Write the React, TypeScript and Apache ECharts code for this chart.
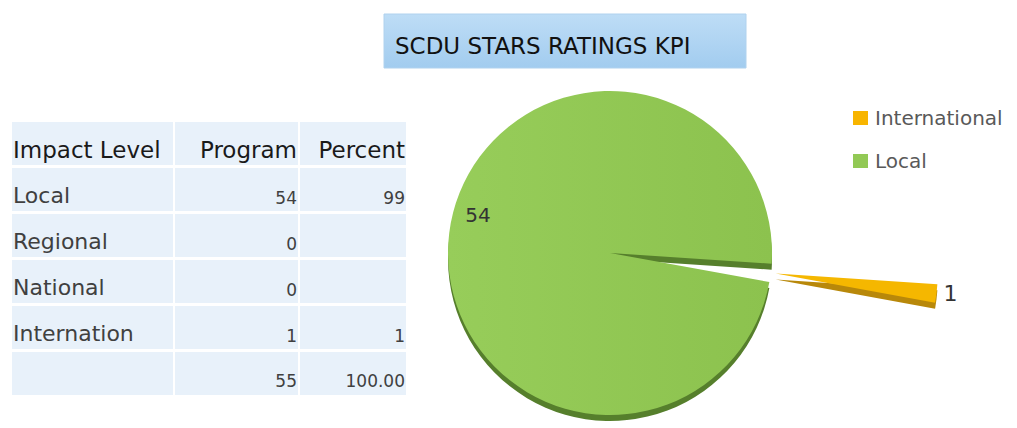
import React, { useEffect, useRef } from "react";
import * as echarts from "echarts";

const titleText = "SCDU STARS RATINGS KPI";
const tableHeaders = ["Impact Level", "Program", "Percent"];
const levels = ["Local", "Regional", "National", "Internation"];
const programs = [54, 0, 0, 1];
const percents: (number | null)[] = [99, null, null, 1];
const totalProgram = "55";
const totalPercent = "100.00";

const pieNames = ["International", "Local"];
const pieValues = [1, 54];

const FONT = "DejaVu Sans";
const faceColors: Record<string, any> = {
  International: "#F5B700",
  Local: new echarts.graphic.LinearGradient(0, 0, 1, 0, [
    { offset: 0, color: "#97CD5A" },
    { offset: 1, color: "#8CC24E" },
  ]),
};
const sideColors: Record<string, string> = {
  International: "#B8880A",
  Local: "#567F2C",
};
const legendColors: Record<string, string> = {
  International: "#F8B500",
  Local: "#92C955",
};

const CX = 610;
const CY = 253;
const R = 162;
const START = 356.2;
const OFFSET = 167;

function buildTable(): any[] {
  const els: any[] = [];
  const colX = [12, 175, 300];
  const colW = [161, 123, 106];
  const rowTop = [122, 168, 214, 260, 306, 352];
  const rowH = 43;
  const cellFill = "#E8F1FA";
  rowTop.forEach((y) => {
    colX.forEach((x, ci) => {
      els.push({
        type: "rect",
        shape: { x, y, width: colW[ci], height: rowH },
        style: { fill: cellFill },
        silent: true,
      });
    });
  });
  const rightX = [0, 297, 405];
  els.push({
    type: "text",
    x: 13,
    y: 150,
    style: { text: tableHeaders[0], fontSize: 23, fontFamily: FONT, fill: "#1a1a1a", verticalAlign: "middle", align: "left" },
  });
  for (let c = 1; c < 3; c++) {
    els.push({
      type: "text",
      x: rightX[c],
      y: 150,
      style: { text: tableHeaders[c], fontSize: 23, fontFamily: FONT, fill: "#1a1a1a", verticalAlign: "middle", align: "right" },
    });
  }
  levels.forEach((lv, i) => {
    const top = rowTop[i + 1];
    els.push({
      type: "text",
      x: 13,
      y: top + 27,
      style: { text: lv, fontSize: 22, fontFamily: FONT, fill: "#404040", verticalAlign: "middle", align: "left" },
    });
    els.push({
      type: "text",
      x: rightX[1],
      y: top + 30,
      style: { text: String(programs[i]), fontSize: 17, fontFamily: FONT, fill: "#404040", verticalAlign: "middle", align: "right" },
    });
    if (percents[i] !== null) {
      els.push({
        type: "text",
        x: rightX[2],
        y: top + 30,
        style: { text: String(percents[i]), fontSize: 17, fontFamily: FONT, fill: "#404040", verticalAlign: "middle", align: "right" },
      });
    }
  });
  const tTop = rowTop[5];
  els.push({
    type: "text",
    x: rightX[1],
    y: tTop + 29,
    style: { text: totalProgram, fontSize: 17, fontFamily: FONT, fill: "#404040", verticalAlign: "middle", align: "right" },
  });
  els.push({
    type: "text",
    x: rightX[2],
    y: tTop + 29,
    style: { text: totalPercent, fontSize: 17, fontFamily: FONT, fill: "#404040", verticalAlign: "middle", align: "right" },
  });
  return els;
}

export default function App() {
  const ref = useRef<HTMLDivElement>(null);
  useEffect(() => {
    if (!ref.current) return;
    const chart = echarts.init(ref.current, null, { renderer: "svg" });
    const common = {
      type: "pie",
      startAngle: START,
      clockwise: true,
      selectedMode: "single",
      selectedOffset: OFFSET,
      avoidLabelOverlap: false,
      emphasis: { disabled: true },
      silent: true,
    };
    const option: any = {
      animation: false,
      backgroundColor: "#ffffff",
      legend: {
        orient: "vertical",
        left: 853,
        top: 108,
        itemWidth: 15,
        itemHeight: 14,
        itemGap: 23,
        icon: "rect",
        selectedMode: false,
        textStyle: { fontSize: 20, color: "#595959", fontFamily: FONT, padding: [0, 0, 0, 2] },
        data: pieNames.map((n) => ({ name: n, itemStyle: { color: legendColors[n] } })),
        padding: 0,
      },
      graphic: [
        {
          type: "rect",
          shape: { x: 384, y: 14, width: 362, height: 54 },
          style: {
            fill: new echarts.graphic.LinearGradient(0, 0, 0, 1, [
              { offset: 0, color: "#BEDDF6" },
              { offset: 1, color: "#A2CCEF" },
            ]),
            stroke: "#B0D2EE",
            lineWidth: 1,
          },
          silent: true,
        },
        {
          type: "text",
          x: 395,
          y: 46,
          style: { text: titleText, fontSize: 23, fontFamily: FONT, fill: "#111111", verticalAlign: "middle", align: "left" },
        },
        ...buildTable(),
      ],
      series: [
        {
          ...common,
          name: "side",
          center: [CX, CY + 6],
          radius: [0, R],
          label: { show: false },
          labelLine: { show: false },
          data: pieNames.map((n, i) => ({
            name: n,
            value: pieValues[i],
            selected: n === "International",
            itemStyle: { color: sideColors[n] },
          })),
        },
        {
          ...common,
          name: "face",
          center: [CX, CY],
          radius: [0, R],
          labelLine: { show: false, length: 2, length2: 0 },
          label: { show: true, position: "outside", fontSize: 22, color: "#333333", fontFamily: FONT, formatter: "{c}", offset: [-2, 4] },
          data: pieNames.map((n, i) => ({
            name: n,
            value: pieValues[i],
            selected: n === "International",
            itemStyle: { color: faceColors[n] },
            label: { show: n === "International" },
          })),
        },
        {
          ...common,
          name: "labels",
          center: [CX, CY],
          radius: [100, R],
          labelLine: { show: false },
          label: { show: true, position: "inside", fontSize: 20, color: "#333333", fontFamily: FONT, formatter: "{c}", offset: [1, -22] },
          data: pieNames.map((n, i) => ({
            name: n,
            value: pieValues[i],
            selected: n === "International",
            itemStyle: { color: "rgba(0,0,0,0)" },
            label: { show: n === "Local" },
          })),
        },
      ],
    };
    chart.setOption(option);
    return () => chart.dispose();
  }, []);
  return (
    <div
      ref={ref}
      style={{ position: "absolute", left: 0, top: 0, width: 1017, height: 428 }}
    />
  );
}
